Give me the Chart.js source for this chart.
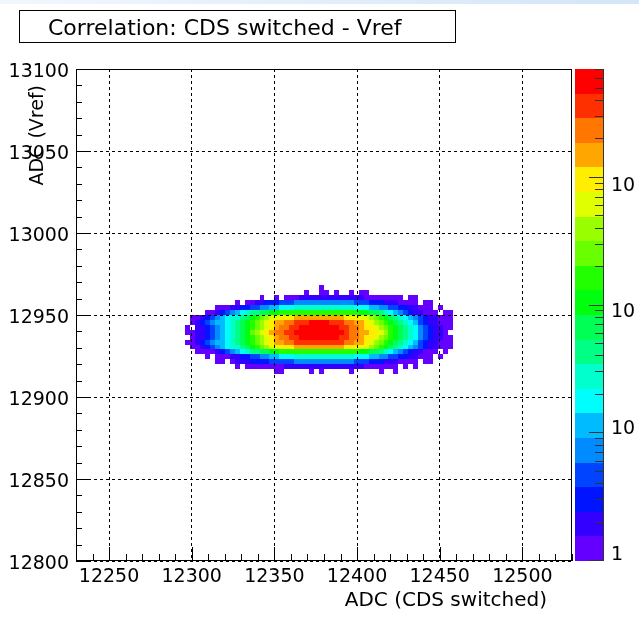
<!DOCTYPE html>
<html>
<head>
<meta charset="utf-8">
<script src="https://cdn.jsdelivr.net/npm/chart.js@4/dist/chart.umd.min.js"></script>
<style>
  html, body { margin: 0; padding: 0; background: #fff; }
  #wrap { position: relative; width: 639px; height: 617px; }
  #strip { position: absolute; left: 0; top: 0; width: 639px; height: 4px;
           background: linear-gradient(to right, #f2f7fd, #d3e5f7); }
</style>
</head>
<body>
<div id="wrap"><canvas id="c" width="639" height="617"></canvas><div id="strip"></div></div>
<script>
const xTicks = [12250, 12300, 12350, 12400, 12450, 12500];
const yTicks = [12800, 12850, 12900, 12950, 13000, 13050, 13100];
const xRange = [12230, 12530];
const yRange = [12800, 13100];
const zRange = [1, 7130];
const zLabelValues = [1, 10, 100, 1000];
const zLabelText = ['1', '10', '10', '10'];
const binWidth = 3;
const firstBinX = 12296; // low edge of column 0
const topBinY = 12968;   // high edge of row 0
const contours = 20;

// colour level of each cell ('.' = empty, 0-9 then a-j = levels 0..19)
const D = n => '.'.repeat(n);
const cellLevels = [
  D(27) + "0" + D(26),
  D(24) + "0..00.0..0.00" + D(17),
  D(15) + "0..0." + "000" + "1111111111111" + "00000" + "000" + "." + "00" + D(7),
  D(10) + "0.0011222333" + "444444444444" + "3332221110000.00" + D(4),
  D(6) + "0001122334455666" + "777777777777" + "6665544332211000.0" + D(2),
  D(4) + "0012345678899aa" + "bbbbbbbbbbbbbbbb" + "aa99876543211000.00",
  ".001234567789abcdee" + "fff" + "gggggggggg" + "fff" + "eedcba9876543211000",
  ".01234556789abcdefgghh" + "iiijjjjiii" + "hhggfedcba987653211000",
  "0.1123456789abcdefghhii" + "jjjjjjjj" + "iihhgffedcba98764321100",
  "001123456789acdefghhii" + "jjjjjjjjjj" + "ihhggffedba9876432110.",
  ".01123456789abcdefghhii" + "jjjjjjjj" + "iihhgffedcba98764321100",
  "001234556789abcdefgghh" + "iiiiiiiiii" + "hhggfedcba987653211000",
  ".001234567789abcdee" + "fff" + "gggggggggg" + "fff" + "eedcba9876543211000",
  "..000012345678899aa" + "bbbbbbbbbbbbbbbb" + "aa99876543211000.0.",
  "....0.0001122334455666" + "777777777777" + "6665544332211000.0" + D(2),
  D(6) + "00.0" + "111" + "2222" + "33333" + "444444444444" + "333" + "222" + "111" + "0000" + "." + "00" + D(4),
  D(10) + "0." + "00000000" + "1111111111111111" + "0000000" + ".0.0" + D(7),
  D(18) + "00" + D(5) + "0.0" + D(5) + "0" + D(5) + "0..0" + D(11)
];

const nCols = 54;
const logStep = Math.log10(zRange[1]) / contours;
// representative count of each level (middle of its contour band)
const counts = cellLevels.map(row => [...row.padEnd(nCols, '.').slice(0, nCols)].map(ch => {
  if (ch === '.') return 0;
  const lvl = parseInt(ch, 20);
  return Math.pow(10, (lvl + 0.5) * logStep);
}));

// ROOT "pretty" palette, 20 contours
const paletteHue = [263.2, 252, 235.2, 224, 207.2, 196, 179.2, 168, 151.2, 140,
                    123.2, 112, 95.2, 84, 67.2, 56, 39.2, 28, 11.2, 0];
const bandColor = j => `hsl(${paletteHue[j]}, 100%, 50%)`;
const colorFor = n => bandColor(Math.min(contours - 1, Math.floor(Math.log10(n) / logStep)));

const FONT = "'DejaVu Sans', sans-serif";

const heatmap = {
  id: 'heatmap',
  beforeDatasetsDraw(chart) {
    const { ctx, chartArea: a, scales: { x, y } } = chart;
    ctx.save();
    ctx.beginPath();
    ctx.rect(a.left, a.top, a.width, a.height);
    ctx.clip();
    counts.forEach((row, r) => {
      const hi = topBinY - r * binWidth;
      const py0 = Math.round(y.getPixelForValue(hi));
      const py1 = Math.round(y.getPixelForValue(hi - binWidth));
      row.forEach((n, c) => {
        if (!n) return;
        const lo = firstBinX + c * binWidth;
        const px0 = Math.round(x.getPixelForValue(lo));
        const px1 = Math.round(x.getPixelForValue(lo + binWidth));
        ctx.fillStyle = colorFor(n);
        ctx.fillRect(px0, py0, px1 - px0, py1 - py0);
      });
    });
    ctx.restore();
  }
};

const decorations = {
  id: 'decorations',
  afterDraw(chart) {
    const { ctx, chartArea: a, scales: { x, y, z } } = chart;
    ctx.save();
    ctx.strokeStyle = '#000';
    ctx.lineWidth = 1;

    // frame
    ctx.strokeRect(a.left + 0.5, a.top + 0.5, a.width - 1, a.height - 1);

    // inner tick marks
    ctx.beginPath();
    for (let v = Math.ceil(x.min / 10) * 10; v <= x.max; v += 10) {
      const px = Math.round(x.getPixelForValue(v)) + 0.5;
      const len = v % 50 === 0 ? 14 : 7;
      ctx.moveTo(px, a.bottom);
      ctx.lineTo(px, a.bottom - len);
    }
    for (let v = Math.ceil(y.min / 10) * 10; v <= y.max; v += 10) {
      const py = Math.round(y.getPixelForValue(v)) + 0.5;
      const len = v % 50 === 0 ? 13 : 6;
      ctx.moveTo(a.left, py);
      ctx.lineTo(a.left + len, py);
    }
    ctx.stroke();

    // colour palette
    const barL = a.right + 3, barR = a.right + 31;
    for (let j = 0; j < contours; j++) {
      const top = Math.round(z.getPixelForValue(Math.pow(10, (j + 1) * logStep)));
      const bot = Math.round(z.getPixelForValue(Math.pow(10, j * logStep)));
      ctx.fillStyle = bandColor(j);
      ctx.fillRect(barL, top, barR - barL, bot - top);
    }
    ctx.strokeStyle = '#333';
    ctx.beginPath();
    ctx.moveTo(barR + 0.5, a.top);
    ctx.lineTo(barR + 0.5, a.bottom);
    for (let d = 1; d <= zRange[1]; d *= 10) {
      for (let m = 1; m <= 9 && m * d <= zRange[1]; m++) {
        const py = Math.round(z.getPixelForValue(m * d)) - 0.5;
        const len = m === 1 ? 14 : 8;
        ctx.moveTo(barR, py);
        ctx.lineTo(barR - len, py);
      }
    }
    ctx.stroke();

    // palette labels (ROOT puts the exponent beyond the visible edge)
    ctx.fillStyle = '#000';
    ctx.font = `19px ${FONT}`;
    ctx.textAlign = 'left';
    ctx.textBaseline = 'middle';
    const labelShift = [-6, -4, 6, 8];
    zLabelValues.forEach((v, i) => {
      ctx.fillText(zLabelText[i], barR + 8, z.getPixelForValue(v) + labelShift[i]);
    });

    // title box
    ctx.fillStyle = '#fff';
    ctx.fillRect(19, 10, 436, 32);
    ctx.strokeStyle = '#000';
    ctx.strokeRect(19.5, 10.5, 436, 32);
    ctx.fillStyle = '#000';
    ctx.font = `22px ${FONT}`;
    ctx.fillText('Correlation: CDS switched - Vref', 48, 29);

    // axis titles
    ctx.font = `20px ${FONT}`;
    ctx.textAlign = 'right';
    ctx.fillText('ADC (CDS switched)', a.right - 25, 601);
    ctx.font = `19px ${FONT}`;
    ctx.translate(38, a.top + 16);
    ctx.rotate(-Math.PI / 2);
    ctx.fillText('ADC (Vref)', 0, 0);
    ctx.restore();
  }
};

new Chart(document.getElementById('c'), {
  type: 'scatter',
  data: { datasets: [] },
  options: {
    responsive: false,
    animation: false,
    devicePixelRatio: 1,
    layout: { padding: { top: 69, left: 0, right: 0, bottom: 0 } },
    plugins: { legend: { display: false }, tooltip: { enabled: false } },
    scales: {
      x: {
        type: 'linear', position: 'bottom', min: xRange[0], max: xRange[1],
        afterFit: s => { s.height = 56; },
        afterBuildTicks: s => { s.ticks = xTicks.map(v => ({ value: v })); },
        ticks: { callback: v => String(v), autoSkip: false, maxRotation: 0,
                 font: { family: FONT, size: 19 }, color: '#000', padding: 5 },
        grid: { color: '#000', lineWidth: 1, drawTicks: false, z: 1 },
        border: { display: false, dash: [3, 3] }
      },
      y: {
        type: 'linear', position: 'left', min: yRange[0], max: yRange[1],
        afterFit: s => { s.width = 76; },
        afterBuildTicks: s => { s.ticks = yTicks.map(v => ({ value: v })); },
        ticks: { callback: v => String(v), autoSkip: false, labelOffset: 3,
                 font: { family: FONT, size: 19 }, color: '#000', padding: 7 },
        grid: { color: '#000', lineWidth: 1, drawTicks: false, z: 1 },
        border: { display: false, dash: [3, 3] }
      },
      z: {
        type: 'logarithmic', position: 'right', min: zRange[0], max: zRange[1],
        afterFit: s => { s.width = 67; },
        ticks: { display: false },
        grid: { display: false, drawTicks: false },
        border: { display: false }
      }
    }
  },
  plugins: [heatmap, decorations]
});
</script>
</body>
</html>
